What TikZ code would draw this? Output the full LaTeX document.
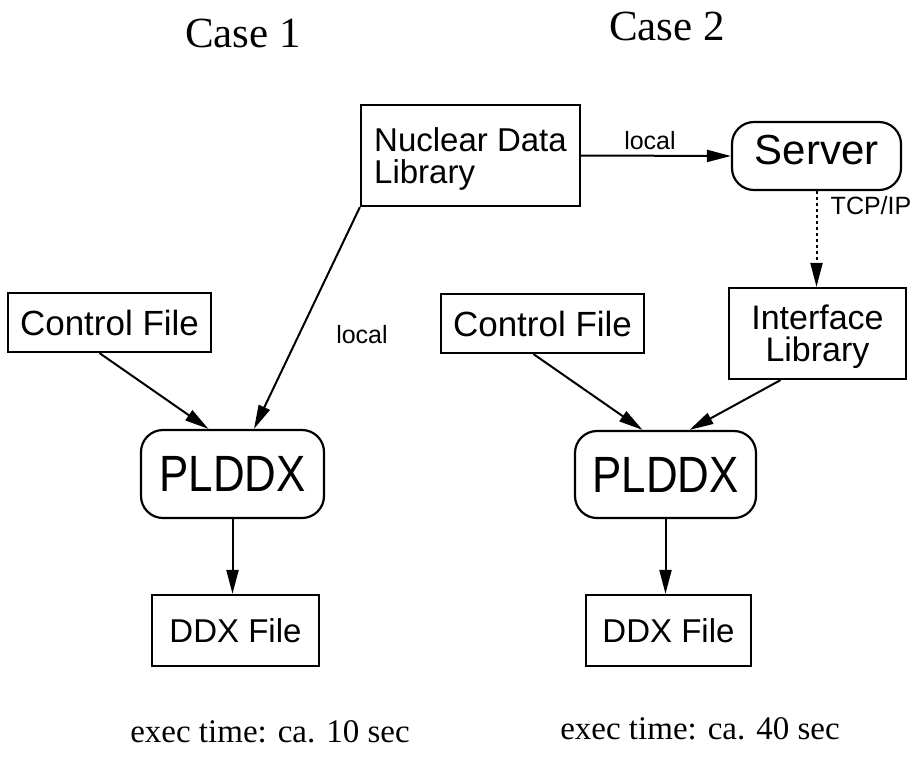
\documentclass[tikz,border=0pt]{standalone}
\usepackage{fontspec}
\setmainfont{Liberation Serif}
\setsansfont{Liberation Sans}
\usetikzlibrary{arrows.meta,calc}
\begin{document}
\begin{tikzpicture}[x=1pt,y=-1pt,
  box/.style={draw,line width=2.2pt,inner sep=0pt,font=\sffamily\fontsize{33}{31}\selectfont},
  rbox/.style={box,rounded corners=22pt},
  conn/.style={line width=2pt,-{Triangle[length=24pt,width=12pt]}},
  lbl/.style={font=\sffamily\fontsize{25}{25}\selectfont,anchor=base,inner sep=0pt},
  title/.style={font=\fontsize{43}{43}\selectfont,anchor=base,inner sep=0pt},
  exec/.style={font=\fontsize{33}{33}\selectfont,anchor=base,inner sep=0pt}]
\useasboundingbox (0,0) rectangle (916,756);
% titles
\node[title] (t1) at (243,47) {Case 1};
\node[title] (t2) at (667,40) {Case 2};
% nodes
\node[box,minimum width=219pt,minimum height=101pt,align=left,text depth=0pt,font=\sffamily\fontsize{33}{32}\selectfont] (ndl) at (470.5,155.5) {Nuclear Data\\Library};
\node[rbox,minimum width=169pt,minimum height=68pt,text depth=12pt,font=\sffamily\fontsize{42}{42}\selectfont] (srv) at (816.5,156) {Server};
\node[box,minimum width=177pt,minimum height=91pt,align=center,text depth=-8pt,font=\sffamily\fontsize{34}{32}\selectfont] (ifl) at (817.5,333.5) {Interface\\Library};
\node[box,minimum width=203pt,minimum height=59pt,font=\sffamily\fontsize{35}{35}\selectfont] (c1) at (109.5,322.5) {Control File};
\node[box,minimum width=203pt,minimum height=59pt,font=\sffamily\fontsize{35}{35}\selectfont] (c2) at (542.5,323.5) {Control File};
\node[rbox,minimum width=183pt,minimum height=88pt,text depth=-14pt,font=\sffamily\fontsize{51}{51}\selectfont] (p1) at (232.5,474) {\scalebox{0.86}[1]{PLDDX}};
\node[rbox,minimum width=181pt,minimum height=87pt,text depth=-14pt,font=\sffamily\fontsize{51}{51}\selectfont] (p2) at (665.5,474.5) {\scalebox{0.86}[1]{PLDDX}};
\node[box,minimum width=167pt,minimum height=71pt] (d1) at (235.5,630.5) {DDX File};
\node[box,minimum width=165pt,minimum height=71pt] (d2) at (668.5,630.5) {DDX File};
% connectors
\draw[conn] (ndl.east) -- (srv.west);
\draw[conn,dash pattern=on 3pt off 3pt] (srv.south) -- (srv.south |- ifl.north);
\draw[conn] (ndl.south west) -- (p1);
\draw[conn] ($(c1.south)+(-10,0)$) -- ($(p1.north)+(-24,0)$);
\draw[conn] ($(c2.south)+(-9,0)$) -- ($(p2.north)+(-23,0)$);
\draw[conn] ($(ifl.south)+(-37,0)$) -- ($(p2.north)+(24,0)$);
\draw[conn] (p1.south) -- (p1.south |- d1.north);
\draw[conn] (p2.south) -- (p2.south |- d2.north);
% labels
\node[lbl] (l1) at (650,149) {local};
\node[lbl] (l2) at (362,343) {local};
\node[lbl] (l3) at (871,214) {TCP/IP};
\node[exec] (e1) at (270,742) {exec time: ca. 10 sec};
\node[exec] (e2) at (700,739) {exec time: ca. 40 sec};
\end{tikzpicture}
\end{document}
